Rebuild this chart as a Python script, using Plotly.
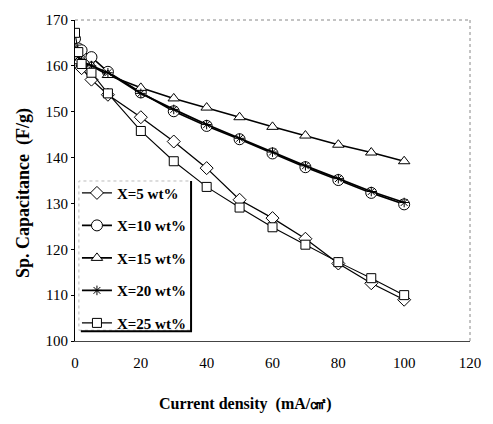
import plotly.graph_objects as go

current = [0, 1, 2, 5, 10, 20, 30, 40, 50, 60, 70, 80, 90, 100]
cap_5 = [164.0, 162.0, 159.5, 157.0, 153.7, 148.8, 143.5, 137.7, 130.8, 126.8, 122.3, 116.9, 112.6, 109.0]
cap_10 = [165.9, 163.8, 163.4, 161.9, 158.7, 154.2, 150.1, 146.9, 144.0, 140.9, 137.9, 135.1, 132.3, 129.8]
cap_15 = [162.0, 161.0, 160.5, 160.0, 158.0, 155.2, 152.9, 150.9, 148.8, 146.7, 144.8, 142.8, 141.1, 139.2]
cap_20 = [164.0, 162.0, 161.0, 160.0, 158.5, 154.0, 150.5, 147.2, 144.2, 141.2, 138.2, 135.4, 132.6, 130.2]
cap_25 = [167.2, 163.0, 160.4, 158.5, 154.0, 145.8, 139.2, 133.6, 129.1, 124.8, 121.0, 117.2, 113.7, 110.0]

names = ["X=5 wt%", "X=10 wt%", "X=15 wt%", "X=20 wt%", "X=25 wt%"]
series = [cap_5, cap_10, cap_15, cap_20, cap_25]
symbols = ["diamond", "circle", "triangle-up", "asterisk", "square"]
sizes = [10, 11, 10, 8, 9]
widths = [1.3, 1.6, 1.6, 1.8, 1.1]

FONT = "Liberation Serif"

fig = go.Figure()
for i, (nm, ys, sym, sz, lw) in enumerate(zip(names, series, symbols, sizes, widths)):
    fig.add_trace(go.Scatter(
        x=current, y=ys, name=nm, mode="lines+markers",
        legendgroup=str(i),
        line=dict(color="black", width=lw),
        marker=dict(symbol=sym, size=sz, color="white",
                    line=dict(color="black", width=1)),
    ))

fig.update_layout(
    width=493, height=424,
    margin=dict(l=75, r=13, t=14, b=83),
    paper_bgcolor="white", plot_bgcolor="white",
    font=dict(family=FONT, color="black", size=15),
    showlegend=True,
    legend=dict(
        x=(77 - 75) / 405, y=0.512, xanchor="left", yanchor="top",
        bgcolor="rgba(255,255,255,0)", borderwidth=0,
        font=dict(family=FONT, size=15, color="black", weight="bold"),
        traceorder="grouped", tracegroupgap=10,
        itemwidth=30,
    ),
    xaxis=dict(
        range=[0, 120], dtick=20, tick0=0,
        showgrid=False, zeroline=False,
        showline=True, linecolor="#444", linewidth=1,
        ticks="", tickfont=dict(family=FONT, size=15, color="black"),
        ticklabelstandoff=8,
    ),
    yaxis=dict(
        range=[100, 170], dtick=10, tick0=100,
        showgrid=False, zeroline=False,
        showline=True, linecolor="black", linewidth=1,
        ticks="outside", ticklen=3, tickcolor="black",
        tickfont=dict(family=FONT, size=15, color="black"),
    ),
    annotations=[
        dict(text="<b>Current density  (mA/㎠)</b>", xref="paper", yref="paper",
             x=(250 - 75) / 405, y=-(405 - 341) / 327, xanchor="center", yanchor="middle",
             showarrow=False, font=dict(family=FONT, size=16, color="black")),
        dict(text="<b>Sp. Capacitance  (F/g)</b>", xref="paper", yref="paper",
             x=-(75 - 22) / 405, y=(341 - 190) / 327, xanchor="center", yanchor="middle",
             textangle=-90, showarrow=False, font=dict(family=FONT, size=18, color="black")),
    ],
    shapes=[
        dict(type="line", xref="paper", yref="paper", x0=0, x1=1, y0=1, y1=1,
             line=dict(color="#888", width=1, dash="dot")),
        dict(type="line", xref="paper", yref="paper", x0=1, x1=1, y0=0, y1=1,
             line=dict(color="#888", width=1, dash="dot")),
        dict(type="rect", xref="paper", yref="paper", layer="below",
             x0=(79 - 75) / 405, x1=(194 - 75) / 405,
             y0=(341 - 330) / 327, y1=(341 - 178) / 327,
             fillcolor="white", line=dict(color="#bbb", width=1, dash="dot")),
        dict(type="line", xref="paper", yref="paper",
             x0=(194 - 75) / 405, x1=(194 - 75) / 405,
             y0=(341 - 331) / 327, y1=(341 - 178) / 327,
             line=dict(color="black", width=2)),
        dict(type="line", xref="paper", yref="paper",
             x0=(81 - 75) / 405, x1=(195 - 75) / 405,
             y0=(341 - 331) / 327, y1=(341 - 331) / 327,
             line=dict(color="black", width=2)),
    ],
)

fig.write_html("out.html")
